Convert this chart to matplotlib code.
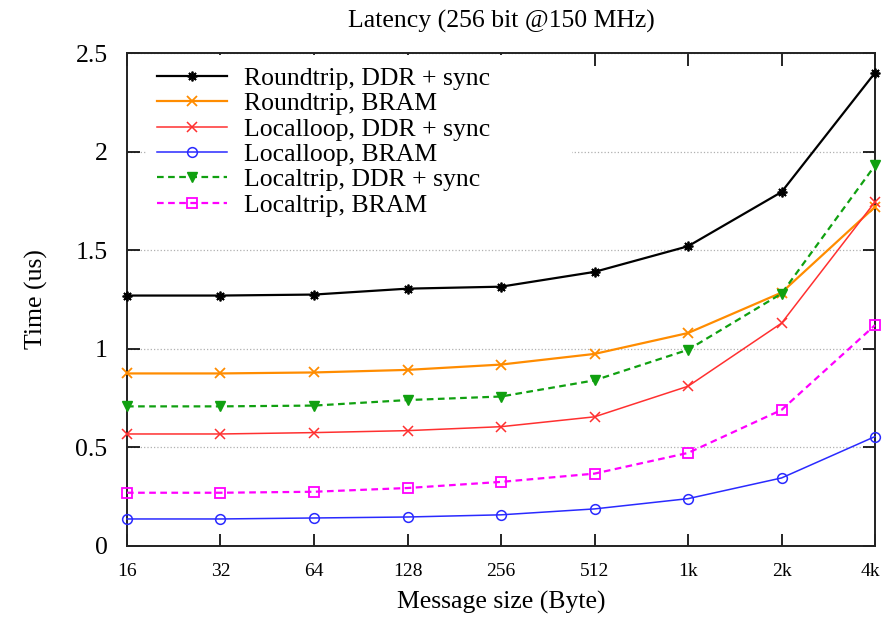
import matplotlib
matplotlib.use("Agg")
import matplotlib.pyplot as plt
import matplotlib.transforms as mtransforms

plt.rcParams['font.family'] = ['Liberation Serif', 'DejaVu Serif']

sizes = ['16', '32', '64', '128', '256', '512', '1k', '2k', '4k']

roundtrip_ddr = [1.27, 1.27, 1.275, 1.305, 1.315, 1.39, 1.52, 1.795, 2.40]
roundtrip_bram = [0.875, 0.875, 0.88, 0.893, 0.92, 0.974, 1.08, 1.285, 1.72]
localloop_ddr = [0.568, 0.568, 0.575, 0.585, 0.605, 0.655, 0.81, 1.13, 1.745]
localloop_bram = [0.137, 0.137, 0.142, 0.147, 0.158, 0.188, 0.24, 0.345, 0.555]
localtrip_ddr = [0.708, 0.708, 0.712, 0.74, 0.758, 0.84, 0.995, 1.28, 1.93]
localtrip_bram = [0.27, 0.27, 0.275, 0.294, 0.325, 0.367, 0.472, 0.69, 1.12]

x = list(range(len(sizes)))

fig = plt.figure(figsize=(8.83, 6.28), dpi=100)
ax = fig.add_axes([0.1438, 0.1306, 0.8472, 0.785])

asterisk = (8, 2, 0)
ax.plot(x, roundtrip_ddr, color='black', lw=1.6, marker=asterisk, ms=7, mew=1.3,
        label='Roundtrip, DDR + sync', clip_on=False, zorder=5)
ax.plot(x, roundtrip_bram, color='#ff8c00', lw=1.6, marker='x', ms=7, mew=1.3,
        label='Roundtrip, BRAM', clip_on=False, zorder=5)
ax.plot(x, localloop_ddr, color='#ff3030', lw=1.1, marker='x', ms=7, mew=1.1,
        label='Localloop, DDR + sync', clip_on=False, zorder=5)
ax.plot(x, localloop_bram, color='#2a2aff', lw=1.1, marker='o', ms=7, mew=1.1,
        mfc='none', label='Localloop, BRAM', clip_on=False, zorder=5)
ax.plot(x, localtrip_ddr, color='#10a010', lw=1.6, ls=(0, (3, 2)), marker='v', ms=7.5,
        label='Localtrip, DDR + sync', clip_on=False, zorder=5)
ax.plot(x, localtrip_bram, color='#ff00ff', lw=1.6, ls=(0, (3, 2)), marker='s', ms=7,
        mew=1.3, mfc='none', label='Localtrip, BRAM', clip_on=False, zorder=5)

ax.set_xlim(0, 8)
ax.set_ylim(0, 2.5)
ax.set_xticks(x)
ax.set_xticklabels(sizes, fontsize=14)
ax.set_yticks([0, 0.5, 1, 1.5, 2, 2.5])
ax.set_yticklabels(['0', '0.5', '1', '1.5', '2', '2.5'], fontsize=18.5)
ax.tick_params(axis='both', direction='in', length=9, width=1.2, top=True, right=True)
ax.tick_params(axis='x', pad=12)
ax.tick_params(axis='y', pad=14)
ax.grid(axis='y', color='#b0b0b0', ls=':', lw=0.9)
ax.set_axisbelow(True)
for s in ax.spines.values():
    s.set_linewidth(1.4)
    s.set_color('#222222')

# keep the last x label inside the canvas
last = ax.get_xticklabels()[-1]
last.set_transform(last.get_transform() +
                   mtransforms.ScaledTranslation(-3 / 72, 0, fig.dpi_scale_trans))

ax.set_title('Latency (256 bit @150 MHz)', fontsize=18.5, pad=18)
ax.set_xlabel('Message size (Byte)', fontsize=18.5, labelpad=8)
ax.set_ylabel('Time (us)', fontsize=18.5, labelpad=20)

# opaque legend box, wider than its text, hiding the grid behind it
leg = ax.legend(loc='upper left', bbox_to_anchor=(0.025, 0.995, 0.57, 0.0),
                mode='expand', fontsize=18.5, frameon=True, fancybox=False,
                framealpha=1, edgecolor='none', facecolor='white',
                handlelength=2.7, handletextpad=0.66, labelspacing=0.09,
                borderaxespad=0.0, borderpad=0.45)
leg.set_zorder(4)

fig.savefig('out.png', dpi=100)
